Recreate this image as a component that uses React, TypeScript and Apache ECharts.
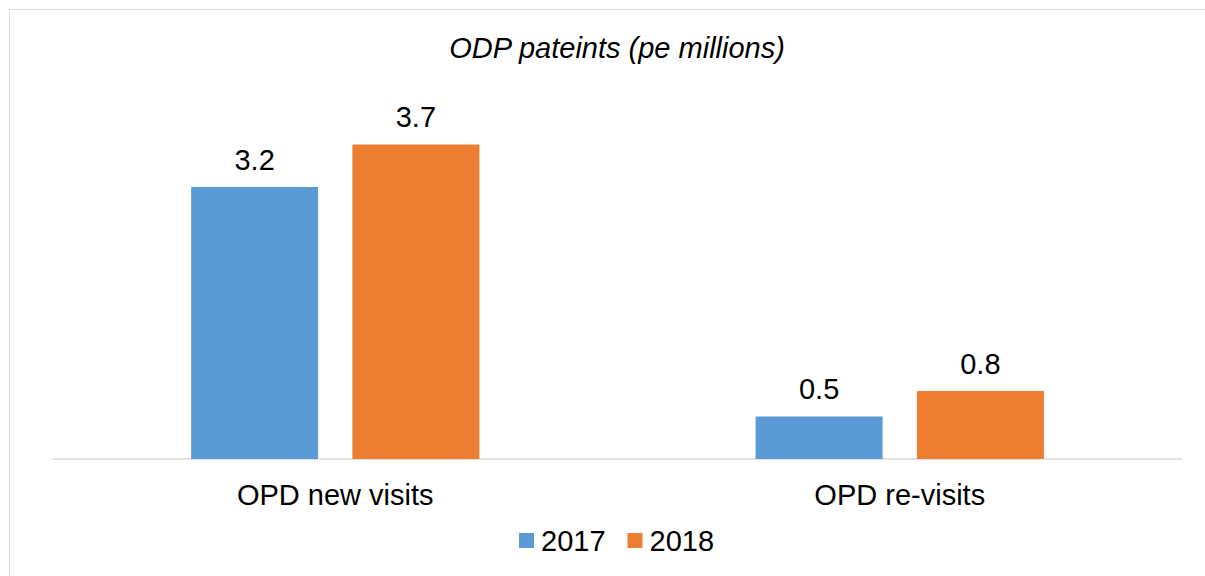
import React, { useEffect, useRef } from "react";
import * as echarts from "echarts";

const categories = ["OPD new visits", "OPD re-visits"];
const seriesNames = ["2017", "2018"];
const values2017 = [3.2, 0.5];
const values2018 = [3.7, 0.8];
const colors = ["#5B9BD5", "#ED7D31"];
const titleText = "ODP pateints (pe millions)";

const FONT = "'Liberation Sans', Arial, sans-serif";
const FS = 29;

export default function App() {
  const ref = useRef<HTMLDivElement>(null);
  useEffect(() => {
    if (!ref.current) return;
    const chart = echarts.init(ref.current, undefined, { renderer: "svg" });
    const label = {
      show: true,
      position: "top",
      distance: 13,
      fontSize: FS,
      color: "#000",
      fontFamily: FONT,
    };
    chart.setOption({
      animation: false,
      backgroundColor: "#fff",
      textStyle: { fontFamily: FONT },
      title: {
        text: titleText,
        left: 612,
        textAlign: "center",
        top: 28,
        textStyle: {
          fontFamily: FONT,
          fontSize: FS,
          fontStyle: "italic",
          fontWeight: "normal",
          color: "#000",
        },
      },
      graphic: [
        {
          type: "rect",
          shape: { x: 9.5, y: 9.5, width: 1400, height: 800 },
          style: { fill: "none", stroke: "#d9d9d9", lineWidth: 1 },
          silent: true,
        },
      ],
      legend: {
        data: seriesNames,
        left: 514,
        top: 521,
        itemWidth: 15,
        itemHeight: 15,
        itemGap: 22,
        icon: "rect",
        textStyle: { fontSize: FS, color: "#000", fontFamily: FONT, padding: [0, 0, 0, 2] },
      },
      grid: { left: 53, right: 23, top: 119, bottom: 576 - 459 },
      xAxis: {
        type: "category",
        data: categories,
        axisLine: { show: true, lineStyle: { color: "#d9d9d9", width: 1.5 } },
        axisTick: { show: false },
        axisLabel: { fontSize: FS, color: "#000", margin: 21, fontFamily: FONT },
      },
      yAxis: {
        type: "value",
        min: 0,
        max: 4,
        show: false,
        splitLine: { show: false },
      },
      series: [
        {
          name: seriesNames[0],
          type: "bar",
          data: values2017,
          barWidth: 127,
          barGap: "27%",
          itemStyle: { color: colors[0] },
          label,
        },
        {
          name: seriesNames[1],
          type: "bar",
          data: values2018,
          barWidth: 127,
          barGap: "27%",
          itemStyle: { color: colors[1] },
          label,
        },
      ],
    });
    return () => chart.dispose();
  }, []);
  return (
    <div
      ref={ref}
      style={{ position: "fixed", left: 0, top: 0, width: 1205, height: 576 }}
    />
  );
}
